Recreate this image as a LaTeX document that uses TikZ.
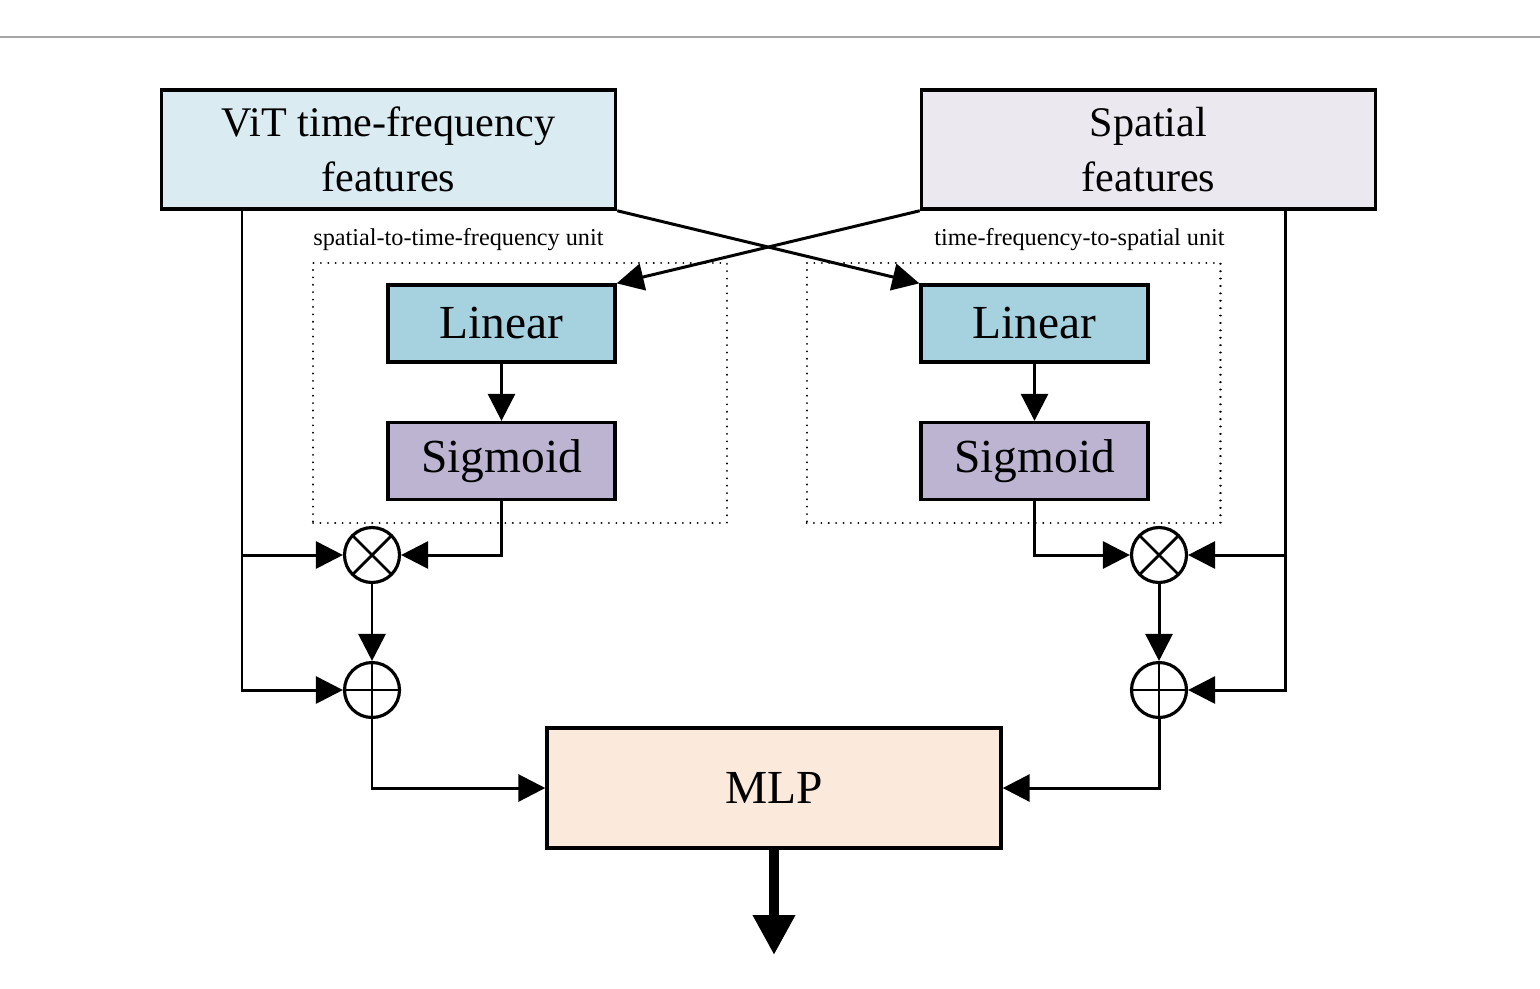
\documentclass[tikz,border=0pt]{standalone}
\usepackage{fontspec}
\setmainfont{Liberation Serif}
\usetikzlibrary{arrows.meta,positioning}
\definecolor{vitblue}{HTML}{DAEBF2}
\definecolor{spalilac}{HTML}{EBE8F0}
\definecolor{linblue}{HTML}{A6D2E0}
\definecolor{siglilac}{HTML}{BCB4D0}
\definecolor{mlppeach}{HTML}{FBEADB}

\begin{document}
\begin{tikzpicture}[
    x=0.02cm, y=-0.02cm,
    feat/.style={draw, line width=2pt, minimum width=9.08cm, minimum height=2.38cm, align=center, font=\fontsize{24}{31}\selectfont},
    layer/.style={draw, line width=1.9pt, minimum width=4.54cm, minimum height=1.54cm, font=\fontsize{27}{32}\selectfont},
    unit/.style={draw, line width=1.2pt, dash pattern=on 0.01pt off 4.2pt, line cap=round, minimum width=8.28cm, minimum height=5.2cm},
    unitlabel/.style={font=\fontsize{13.8}{16}\selectfont, inner sep=0pt},
    op/.style={draw, circle, line width=1.8pt, minimum size=1.1cm, inner sep=0pt},
    mul/.style={op, path picture={
        \draw[line width=1.6pt] (path picture bounding box.north west) -- (path picture bounding box.south east);
        \draw[line width=1.6pt] (path picture bounding box.north east) -- (path picture bounding box.south west);}},
    add/.style={op, path picture={
        \draw[line width=1.6pt] (path picture bounding box.north) -- (path picture bounding box.south);
        \draw[line width=1.6pt] (path picture bounding box.west) -- (path picture bounding box.east);}},
    arrow/.style={-{Triangle[length=0.54cm,width=0.54cm]}, line width=1.7pt},
    outarrow/.style={-{Triangle[length=0.8cm,width=0.8cm]}, line width=5.6pt}
]
\useasboundingbox (0,0) rectangle (1540,988);
\draw[black!35, line width=1.7pt] (0,37) -- (1540,37);

\node[feat, fill=vitblue] (vit) at (388.5,149.5) {ViT time-frequency\\features};
\node[feat, fill=spalilac] (spa) at (1148.5,149.5) {Spatial\\features};

\node[unit] (unitL) at (520,393) {};
\node[unit] (unitR) at (1013.5,393) {};
\node[unitlabel, anchor=west] (lblL) at (313,240) {spatial-to-time-frequency unit};
\node[unitlabel, anchor=east] (lblR) at (1225,240) {time-frequency-to-spatial unit};

\node[layer, fill=linblue] (linL) at (501.5,323.5) {Linear};
\node[layer, fill=siglilac] (sigL) at (501.5,461) {Sigmoid};
\node[layer, fill=linblue] (linR) at (1034.5,323.5) {Linear};
\node[layer, fill=siglilac] (sigR) at (1034.5,461) {Sigmoid};

\node[mul] (otL) at (372,555) {};
\node[add] (opL) at (372,690) {};
\node[mul] (otR) at (1159,555) {};
\node[add] (opR) at (1159,690) {};

\node[feat, fill=mlppeach, minimum height=2.4cm, font=\fontsize{27}{32}\selectfont] (mlp) at (774,788) {MLP};

\coordinate (tapL) at (242,555);
\coordinate (tapR) at (1285,555);
\coordinate (out) at (774,955);

\draw[arrow] (vit.south east) -- (linR.north west);
\draw[arrow] (spa.south west) -- (linL.north east);
\draw[arrow] (linL) -- (sigL);
\draw[arrow] (linR) -- (sigR);

\draw[arrow] (vit.south -| tapL) |- (otL);
\draw[arrow] (tapL) |- (opL);
\draw[arrow] (sigL) |- (otL);
\draw[arrow] (otL) -- (opL);
\draw[arrow] (opL) |- (mlp);

\draw[arrow] (spa.south -| tapR) |- (otR);
\draw[arrow] (tapR) |- (opR);
\draw[arrow] (sigR) |- (otR);
\draw[arrow] (otR) -- (opR);
\draw[arrow] (opR) |- (mlp);

\draw[outarrow] (mlp) -- (out);
\end{tikzpicture}
\end{document}
